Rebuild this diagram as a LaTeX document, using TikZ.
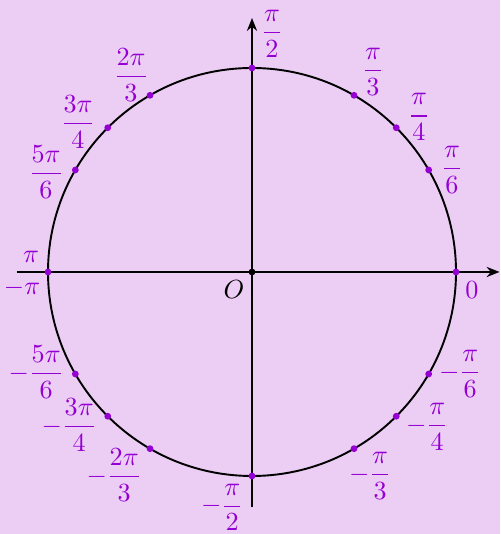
\documentclass[tikz,border=0pt]{standalone}
\usepackage{amsmath}
\usetikzlibrary{arrows.meta}
\definecolor{bgcol}{RGB}{236,205,244}
\definecolor{ptcol}{RGB}{148,0,211}
\begin{document}
\begin{tikzpicture}[
  dot/.style={circle,fill=ptcol,inner sep=0pt,minimum size=1mm},
  lbl/.style={text=ptcol,inner sep=1pt,font=\fontsize{11}{13}\selectfont}
]
\fill[bgcol] (-3.706,-3.853) rectangle (3.647,4.0);
\useasboundingbox (-3.706,-3.853) rectangle (3.647,4.0);

\coordinate (xs) at (-3.456,0);
\coordinate (xe) at (3.64,0);
\coordinate (ys) at (0,-3.456);
\coordinate (ye) at (0,3.735);
\draw[line width=0.8pt,-{Stealth[length=1.9mm,width=1.5mm]}] (xs) -- (xe);
\draw[line width=0.8pt,-{Stealth[length=1.9mm,width=1.5mm]}] (ys) -- (ye);

\draw[line width=0.8pt] (0,0) circle (3);

\node[circle,fill=black,inner sep=0pt,minimum size=1mm] (O) at (0,0) {};
\node[inner sep=1pt,font=\fontsize{11}{13}\selectfont] (lO) at (-0.265,-0.265) {$O$};

\foreach \a in {0,30,45,60,90,120,135,150,180,210,225,240,270,300,315,330}
  \node[dot] (p\a) at (\a:3) {};

\node[lbl] (l0) at (3.235,-0.265) {$0$};
\node[lbl] (l30) at (2.941,1.5) {$\dfrac{\pi}{6}$};
\node[lbl] (l45) at (2.456,2.279) {$\dfrac{\pi}{4}$};
\node[lbl] (l60) at (1.779,2.941) {$\dfrac{\pi}{3}$};
\node[lbl] (l90) at (0.294,3.5) {$\dfrac{\pi}{2}$};
\node[lbl] (l120) at (-1.779,2.897) {$\dfrac{2\pi}{3}$};
\node[lbl] (l135) at (-2.559,2.206) {$\dfrac{3\pi}{4}$};
\node[lbl] (l150) at (-3.029,1.471) {$\dfrac{5\pi}{6}$};
\node[lbl] (l180) at (-3.25,0.221) {$\pi$};
\node[lbl] (lm180) at (-3.382,-0.235) {$-\pi$};
\node[lbl] (l210) at (-3.176,-1.471) {$-\dfrac{5\pi}{6}$};
\node[lbl] (l225) at (-2.691,-2.25) {$-\dfrac{3\pi}{4}$};
\node[lbl] (l240) at (-2.029,-2.985) {$-\dfrac{2\pi}{3}$};
\node[lbl] (l270) at (-0.441,-3.46) {$-\dfrac{\pi}{2}$};
\node[lbl] (l300) at (1.735,-3.0) {$-\dfrac{\pi}{3}$};
\node[lbl] (l315) at (2.574,-2.279) {$-\dfrac{\pi}{4}$};
\node[lbl] (l330) at (3.059,-1.5) {$-\dfrac{\pi}{6}$};
\end{tikzpicture}
\end{document}
